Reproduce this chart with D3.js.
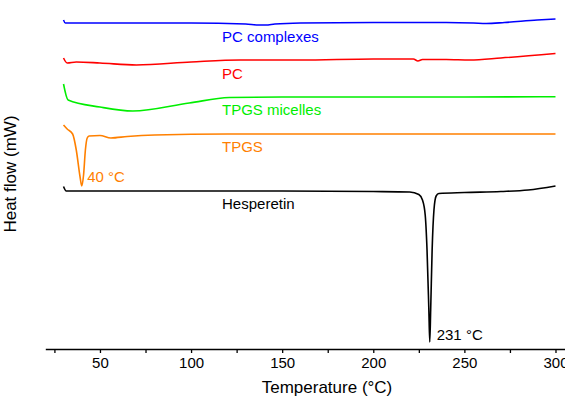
<!DOCTYPE html>
<html><head><meta charset="utf-8">
<script src="https://cdn.jsdelivr.net/npm/d3@7"></script>
<style>body{margin:0;background:#fff}svg{display:block;font-family:"Liberation Sans",Arial,sans-serif}</style>
</head><body><svg id="c" width="565" height="397"></svg>
<script>
// Temperature (°C) and heat flow (mW, offset curves, arbitrary units)
const pcComplexes = [[30,32.9],[31,32.6],[50,32.6],[100,32.6],[130,32.5],[137,32.4],[141,32.4],[146,32.5],[160,32.6],[200,32.65],[240,32.65],[255,32.6],[262,32.55],[272,32.65],[290,32.9],[300,33.0]];
const pc = [[30,29.1],[32,28.6],[37,28.7],[50,28.6],[70,28.4],[100,28.7],[127,28.9],[160,28.9],[200,29.0],[222,29.0],[224.5,28.8],[227,28.95],[240,28.95],[253,28.9],[270,29.1],[300,29.55]];
const tpgsMicelles = [[30,26.5],[32.5,24.9],[50,24.2],[68,23.8],[99,24.6],[121,25.15],[150,25.2],[200,25.2],[250,25.2],[300,25.23]];
const tpgs = [[30,22.4],[32,22.0],[35,21.5],[37,19.9],[39,17.3],[40,16.3],[41,17.4],[42,19.9],[43,21.1],[44,21.3],[50,21.35],[56,21.1],[65,21.25],[80,21.4],[120,21.5],[200,21.5],[300,21.5]];
const hesperetin = [[30,16.25],[31.5,15.8],[50,15.8],[150,15.8],[200,15.75],[220,15.7],[225,15.45],[227,14.9],[228.5,13.4],[229.5,9.9],[230.5,3.9],[231,0.7],[231.5,3.9],[232.3,9.9],[233.3,13.9],[234.5,15.3],[236,15.55],[250,15.65],[270,15.75],[285,15.9],[300,16.3]];

const seriesNames = ["PC complexes","PC","TPGS micelles","TPGS","Hesperetin"];
const seriesData = [pcComplexes, pc, tpgsMicelles, tpgs, hesperetin];
const seriesColors = ["#0000ff","#ff0000","#00ee00","#ff8000","#000000"];
// label anchors [temperature, heat flow]
const labelPos = [[117,30.7],[117,27.0],[117,23.4],[117,19.7],[117,14.0]];
const peakLabels = [{text:"40 °C",t:43,v:16.7,color:"#ff8000"},{text:"231 °C",t:234.8,v:0.9,color:"#000000"}];
const xTicks = [50,100,150,200,250,300];
const xMinorTicks = [25,75,125,175,225,275];

const svg = d3.select("#c");
const x = d3.scaleLinear().domain([20,305]).range([45.3,564.6]);
const y = d3.scaleLinear().domain([0,34.9]).range([349,0]);

// x axis
const axisG = svg.append("g").attr("transform","translate(0,349)");
axisG.call(d3.axisBottom(x).tickValues(xTicks).tickSize(4).tickSizeOuter(0).tickFormat(d3.format("d")));
axisG.append("g").call(d3.axisBottom(x).tickValues(xMinorTicks).tickSize(4).tickSizeOuter(0).tickFormat(""))
  .select(".domain").remove();
axisG.selectAll("path,line").attr("stroke","#000").attr("stroke-width",1.3);
axisG.selectAll("text").attr("font-size",15).attr("font-family","Liberation Sans, Arial").attr("fill","#000").attr("dy",0).attr("y",19);

svg.append("text").attr("x",327).attr("y",393).attr("text-anchor","middle").attr("font-size",17).text("Temperature (°C)");
svg.append("text").attr("transform","translate(15.5,174) rotate(-90)").attr("text-anchor","middle").attr("font-size",17).text("Heat flow (mW)");

const line = d3.line().x(d=>x(d[0])).y(d=>y(d[1])).curve(d3.curveMonotoneX);
seriesData.forEach((s,i)=>{
  svg.append("path").datum(s).attr("d",line).attr("fill","none").attr("stroke",seriesColors[i]).attr("stroke-width",1.6).attr("stroke-linejoin","round");
  svg.append("text").attr("x",x(labelPos[i][0])).attr("y",y(labelPos[i][1])).attr("fill",seriesColors[i]).attr("font-size",15).text(seriesNames[i]);
});
peakLabels.forEach(p=>{
  svg.append("text").attr("x",x(p.t)).attr("y",y(p.v)).attr("fill",p.color).attr("font-size",15).text(p.text);
});
</script></body></html>
